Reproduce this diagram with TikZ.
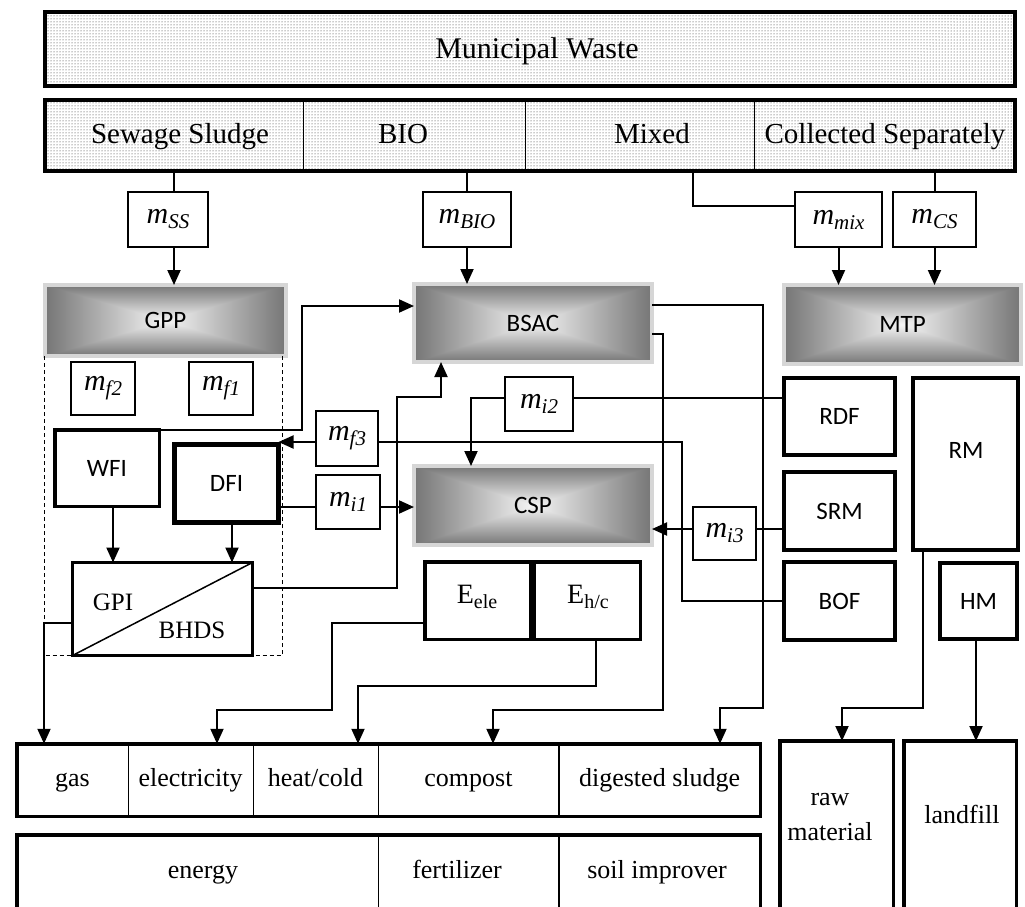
\documentclass[tikz,border=0pt]{standalone}
\usepackage{fontspec}
\setmainfont{Liberation Serif}
\newfontfamily\calib{Carlito}
\usetikzlibrary{patterns,arrows.meta,calc}
\pgfdeclarefunctionalshading{boxgrad}{\pgfpoint{-50bp}{-50bp}}{\pgfpoint{50bp}{50bp}}{}{abs exch abs 2 copy sub abs add add 2 div 25 div 0.5 mul 0.96 exch sub dup dup}
\newcommand\fs[1]{\fontsize{#1}{#1}\selectfont}
\newcommand\mv[1]{{\fs{30}\textit{m}\raisebox{-5pt}{\fs{21}\textit{#1}}}}
\newcommand\ev[1]{{\fs{28}E\raisebox{-5pt}{\fs{20}#1}}}
\begin{document}
\begin{tikzpicture}[x=1pt,y=-1pt,
  tbox/.style={draw,line width=3.5pt,fill=white,inner sep=0pt,outer sep=0pt},
  sbox/.style={tbox,font=\calib\fs{25}},
  mbox/.style={draw,line width=1.1pt,fill=white,inner sep=0pt,outer sep=0pt},
  gbox/.style={shade,shading=boxgrad,draw=black!16,line width=4pt,inner sep=0pt,outer sep=0pt,font=\calib\fs{25}},
  cell/.style={draw,line width=1pt,inner sep=0pt,outer sep=0pt},
  ocell/.style={cell,font=\fs{26},text height=18pt,text depth=6pt},
  dotfill/.style={pattern=dots,pattern color=black!85,inner sep=0pt,outer sep=0pt},
  plain/.style={inner sep=0pt,outer sep=0pt},
  frame/.style={line width=3.5pt},
  conn/.style={line width=2pt},
  arr/.style={line width=2pt,-{Triangle[length=15pt,width=13pt]}},
  txt/.style={inner sep=0pt,anchor=base},
]
\clip (0,0) rectangle (1025,907);
\fill[white] (0,0) rectangle (1025,907);

% top rows
\node[dotfill,minimum width=970pt,minimum height=74pt] (mw) at (530,49) {};
\draw[frame] (mw.north west) rectangle (mw.south east);
\node[txt,font=\fs{30}] (mwt) at (537,59) {Municipal Waste};

\node[dotfill,minimum width=970pt,minimum height=71pt] (src) at (530,135.5) {};
\node[cell,minimum width=258pt,minimum height=71pt] (ss) at (174,135.5) {};
\node[cell,minimum width=222pt,minimum height=71pt] (bio) at (414,135.5) {};
\node[cell,minimum width=229pt,minimum height=71pt] (mix) at (639.5,135.5) {};
\node[cell,minimum width=261pt,minimum height=71pt] (cs) at (884.5,135.5) {};
\draw[frame] (src.north west) rectangle (src.south east);
\node[txt,font=\fs{29}] (tss) at (180,143) {Sewage Sludge};
\node[txt,font=\fs{29}] (tbio) at (403,143) {BIO};
\node[txt,font=\fs{29}] (tmix) at (652,143) {Mixed};
\node[txt,font=\fs{29}] (tcs) at (885,143) {Collected Separately};

% flow quantity boxes (top)
\node[mbox,minimum width=80pt,minimum height=55pt] (mss) at (168,219.5) {\mv{SS}};
\node[mbox,minimum width=88pt,minimum height=55pt] (mbio) at (467,219.5) {\mv{BIO}};
\node[mbox,minimum width=87pt,minimum height=55pt] (mmix) at (838.5,219.5) {\mv{mix}};
\node[mbox,minimum width=83pt,minimum height=55pt] (mcs) at (934.5,219.5) {\mv{CS}};

% plants
\node[gbox,minimum width=241pt,minimum height=71pt] (gpp) at (165.5,320.5) {GPP};
\node[gbox,minimum width=238pt,minimum height=78pt] (bsac) at (533,323) {BSAC};
\node[gbox,minimum width=238pt,minimum height=79pt] (csp) at (533,505.5) {CSP};
\node[gbox,minimum width=237pt,minimum height=79pt] (mtp) at (902.5,324.5) {MTP};

% GPP internals
\coordinate (dl) at ($(gpp.south west)+(-1,0)$);
\coordinate (dr) at ($(gpp.south east)+(-4,0)$);
\node[mbox,minimum width=64pt,minimum height=53pt] (mf2) at (103,388.5) {\mv{f2}};
\node[mbox,minimum width=64pt,minimum height=53pt] (mf1) at (221,388.5) {\mv{f1}};
\node[sbox,minimum width=104.5pt,minimum height=76.5pt] (wfi) at (107,468) {WFI};
\node[sbox,line width=4.5pt,minimum width=104pt,minimum height=78pt] (dfi) at (226.5,483.5) {DFI};
\node[tbox,minimum width=180pt,minimum height=93pt] (gpi) at (162.5,609) {};
\draw[dashed,dash pattern=on 4pt off 3pt,line width=1pt] (dl) -- (dl |- gpi.south) -- (dr |- gpi.south) -- (dr);
\draw[frame] (gpi.north west) rectangle (gpi.south east);
\draw[line width=1.5pt] (gpi.south west) -- (gpi.north east);
\node[txt,font=\fs{25}] (tgpi) at (113,610) {GPI};
\node[txt,font=\fs{25}] (tbhds) at (192,638) {BHDS};

% middle quantity boxes
\node[mbox,minimum width=62pt,minimum height=55pt] (mf3) at (347,438.5) {\mv{f3}};
\node[mbox,minimum width=64pt,minimum height=54pt] (mi1) at (348,502) {\mv{i1}};
\node[mbox,minimum width=68pt,minimum height=54pt] (mi2) at (539,404) {\mv{i2}};
\node[mbox,minimum width=63pt,minimum height=53pt] (mi3) at (724.5,533.5) {\mv{i3}};

% energy boxes
\node[tbox,minimum width=105.5pt,minimum height=77.5pt] (eele) at (477.5,600.5) {};
\node[tbox,minimum width=106.5pt,minimum height=77.5pt] (ehc) at (587,600.5) {};
\node[txt] (tele) at (477,603) {\ev{ele}};
\node[txt] (thc) at (588,603) {\ev{h/c}};

% MTP products
\node[sbox,minimum width=111pt,minimum height=77pt] (rdf) at (839.5,416.5) {RDF};
\node[sbox,minimum width=111pt,minimum height=78pt] (srm) at (839.5,511) {SRM};
\node[sbox,minimum width=111pt,minimum height=78pt] (bof) at (839.5,601) {BOF};
\node[sbox,minimum width=105pt,minimum height=172pt] (rm) at (965.5,464) {};
\node[plain,font=\calib\fs{25}] (trm) at (966,450) {RM};
\node[sbox,minimum width=77pt,minimum height=76pt] (hm) at (978.5,601) {HM};

% output row 1
\node[ocell,minimum width=111.25pt,minimum height=72.5pt] (gas) at (72.4,780) {gas};
\node[ocell,minimum width=125pt,minimum height=72.5pt] (ele) at (190.5,780) {electricity};
\node[ocell,minimum width=125pt,minimum height=72.5pt] (hc) at (315.5,780) {heat/cold};
\node[ocell,minimum width=181pt,minimum height=72.5pt] (comp) at (468.5,780) {compost};
\node[ocell,minimum width=201.25pt,minimum height=72.5pt] (ds) at (659.6,780) {digested sludge};
\node[plain,minimum width=743.5pt,minimum height=72.5pt] (out1) at (388.5,780) {};
\draw[frame] (out1.north west) rectangle (out1.south east);

% output row 2
\node[cell,minimum width=361.25pt,minimum height=85.25pt] (en) at (197.4,877.4) {};
\node[cell,minimum width=181pt,minimum height=85.25pt] (fe) at (468.5,877.4) {};
\node[cell,minimum width=201.25pt,minimum height=85.25pt] (si) at (659.6,877.4) {};
\node[plain,minimum width=743.5pt,minimum height=85.25pt] (out2) at (388.5,877.4) {};
\draw[frame] (out2.north west) rectangle (out2.south east);
\node[txt,font=\fs{26}] (ten) at (203,878) {energy};
\node[txt,font=\fs{26}] (tfe) at (457,878) {fertilizer};
\node[txt,font=\fs{26}] (tsi) at (657,878) {soil improver};

% raw material / landfill
\node[tbox,minimum width=113.5pt,minimum height=176pt] (raw) at (836.5,829) {};
\node[tbox,minimum width=112.5pt,minimum height=176pt] (land) at (960,829) {};
\node[txt,font=\fs{26}] (traw) at (830,805) {raw};
\node[txt,font=\fs{26}] (tmat) at (830,840) {material};
\node[txt,font=\fs{26}] (tland) at (962,823) {landfill};

% helper coordinates
\coordinate (xgas) at (44,0);
\coordinate (xel) at (217,0);
\coordinate (xhc) at (358,0);
\coordinate (xco) at (493,0);
\coordinate (xds) at (720,0);
\coordinate (xi2) at (471,0);
\coordinate (xrm) at (923,0);
\coordinate (xraw) at (842,0);
\coordinate (xhm) at (976,0);
\coordinate (l1) at (0,507);
\coordinate (l2) at (0,398);
\coordinate (l3) at (0,529);
\coordinate (g1) at (0,588);
\coordinate (f3l) at ([yshift=-3.5pt]mf3.west);
\coordinate (f3r) at ([yshift=-3.5pt]mf3.east);

% connectors
\draw[conn] (ss.south) -- (ss.south |- mss.north);
\draw[arr] (ss.south |- mss.south) -- (ss.south |- gpp.north);
\draw[conn] (mbio.north |- src.south) -- (mbio.north);
\draw[arr] (mbio.south) -- (mbio.south |- bsac.north);
\draw[conn] ([xshift=53.5pt]mix.south) |- ([yshift=13.5pt]mmix.west);
\draw[arr] (mmix.south) -- (mmix.south |- mtp.north);
\draw[conn] (mcs.north |- src.south) -- (mcs.north);
\draw[arr] (mcs.south) -- (mcs.south |- mtp.north);

\draw[arr] (wfi.north east) -- ++(143,0) |- ([yshift=17pt]bsac.west);
\draw[arr] (f3l) -- (f3l -| dfi.east);
\draw[conn] (bof.west) -- ++(-102,0) |- (f3r);
\draw[conn] (l1 -| dfi.east) -- (l1 -| mi1.west);
\draw[arr] (l1 -| mi1.east) -- (l1 -| csp.west);
\draw[arr] (wfi.south -| 113,0) -- (113,0 |- gpi.north);
\draw[arr] (dfi.south -| 232,0) -- (232,0 |- gpi.north);
\draw[arr] (g1 -| gpi.east) -| (397,397) -| ([xshift=-92pt]bsac.south);
\draw[arr] ([yshift=-14pt]gpi.west) -| (xgas |- out1.north);
\draw[arr] ([yshift=-22.5pt]eele.west) -| (332,710) -| (xel |- out1.north);
\draw[arr] ([xshift=9pt]ehc.south) |- (358,686) -- (xhc |- out1.north);
\draw[arr] ([yshift=-11pt]bsac.east) -| (663,710) -| (xco |- out1.north);
\draw[arr] ([yshift=18pt]bsac.east) -| (763,708) -| (xds |- out1.north);
\draw[conn] (l2 -| rdf.west) -- (l2 -| mi2.east);
\draw[arr] (l2 -| mi2.west) -| (xi2 |- csp.north);
\draw[conn] (l3 -| srm.west) -- (l3 -| mi3.east);
\draw[arr] (l3 -| mi3.west) -- (l3 -| csp.east);
\draw[arr] (xrm |- rm.south) |- (842,708) -- (xraw |- raw.north);
\draw[arr] (xhm |- hm.south) -- (xhm |- land.north);
\end{tikzpicture}
\end{document}
